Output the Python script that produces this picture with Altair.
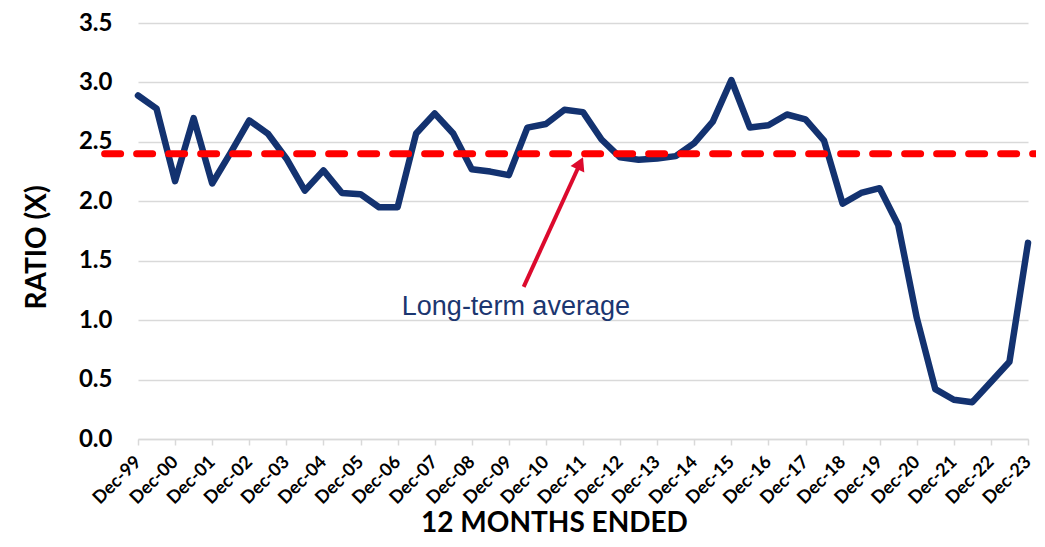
import altair as alt
import pandas as pd

# ---- data (semi-annual, Dec-99 .. Dec-23) ----
tick_labels = ["Dec-99", "Dec-00", "Dec-01", "Dec-02", "Dec-03", "Dec-04", "Dec-05",
               "Dec-06", "Dec-07", "Dec-08", "Dec-09", "Dec-10", "Dec-11", "Dec-12",
               "Dec-13", "Dec-14", "Dec-15", "Dec-16", "Dec-17", "Dec-18", "Dec-19",
               "Dec-20", "Dec-21", "Dec-22", "Dec-23"]
period_index = list(range(49))
ratio = [2.89, 2.78, 2.17, 2.70, 2.15, 2.41, 2.68, 2.57, 2.36, 2.09,
         2.26, 2.07, 2.06, 1.95, 1.95, 2.57, 2.74, 2.57, 2.27, 2.25,
         2.22, 2.62, 2.65, 2.77, 2.75, 2.52, 2.37, 2.35, 2.36, 2.38,
         2.49, 2.67, 3.02, 2.62, 2.64, 2.73, 2.69, 2.51, 1.98, 2.07,
         2.11, 1.80, 1.02, 0.42, 0.33, 0.31, 0.48, 0.65, 1.65]
long_term_average = 2.40
avg_span = [-1.8, 49.5]
arrow_start = [20.8, 1.28]
arrow_head = [23.85, 2.32]
note_text = "Long-term average"
note_pos = [20.38, 1.045]
y_ticks = [0.0, 0.5, 1.0, 1.5, 2.0, 2.5, 3.0, 3.5]

df = pd.DataFrame({"i": period_index, "ratio": ratio})
avg_df = pd.DataFrame({"i": [avg_span[0]], "i2": [avg_span[1]], "ratio": [long_term_average]})
arrow_df = pd.DataFrame({"i": [arrow_start[0]], "ratio": [arrow_start[1]],
                         "i2": [arrow_head[0]], "ratio2": [arrow_head[1]]})
head_df = pd.DataFrame({"i": [arrow_head[0]], "ratio": [arrow_head[1]]})
note_df = pd.DataFrame({"i": [note_pos[0]], "ratio": [note_pos[1]], "t": [note_text]})

label_js = "[" + ",".join("'%s'" % s for s in tick_labels) + "]"

xscale = alt.Scale(domain=[0, 48], nice=False, zero=False)
yscale = alt.Scale(domain=[0, 3.5], nice=False, zero=True)

xaxis = alt.Axis(
    values=list(range(0, 49, 2)),
    labelExpr=label_js + "[round(datum.value/2)]",
    labelAngle=-45, labelAlign="right", labelBaseline="middle",
    labelPadding=14, labelOverlap=False, labelFlush=False, labelBound=False,
    labelFont="Lato", labelFontSize=18, labelFontWeight="bold", labelColor="#000000",
    grid=False, domain=True, domainColor="#D9D9D9", domainWidth=1.5,
    ticks=True, tickColor="#D9D9D9", tickWidth=1.5, tickSize=6,
    title="12 MONTHS ENDED", titleFont="Lato", titleFontSize=28, titleFontWeight="bold",
    titleColor="#000000", titleX=416, titleY=92, titleAlign="center",
    titleBaseline="alphabetic",
)
yaxis = alt.Axis(
    values=y_ticks, format=".1f",
    labelFont="Lato", labelFontSize=24, labelFontWeight="bold", labelColor="#000000",
    labelPadding=26, labelBaseline="middle",
    grid=True, gridColor="#D9D9D9", gridWidth=1.5,
    domain=False, ticks=False,
    title="RATIO (X)", titleFont="Lato", titleFontSize=28, titleFontWeight="bold",
    titleColor="#000000", titleX=-101, titleY=224, titleAlign="center",
    titleBaseline="middle", titleAngle=-90,
)

X = alt.X("i:Q", scale=xscale, axis=xaxis)
Y = alt.Y("ratio:Q", scale=yscale, axis=yaxis)

line = alt.Chart(df).mark_line(color="#133270", strokeWidth=6.5, strokeJoin="round",
                               strokeCap="round").encode(x=X, y=Y)

avg = alt.Chart(avg_df).mark_rule(color="#FF0000", strokeWidth=7, strokeDash=[16, 16],
                                  strokeCap="round").encode(x=X, x2="i2:Q", y=Y)

arrow = alt.Chart(arrow_df).mark_rule(color="#DC0A2D", strokeWidth=4).encode(
    x=X, x2="i2:Q", y=Y, y2="ratio2:Q")

head = alt.Chart(head_df).mark_point(shape="triangle-up", filled=True, size=230, angle=25,
                                     color="#DC0A2D", opacity=1, strokeWidth=0).encode(x=X, y=Y)

note = alt.Chart(note_df).mark_text(font="Liberation Sans", fontSize=27, color="#1B3670",
                                    align="center", baseline="alphabetic").encode(
    x=X, y=Y, text="t:N")

chart = alt.layer(line, avg, arrow, head, note).properties(
    width=890, height=416,
    autosize=alt.AutoSizeParams(type="none"),
    padding={"left": 130, "top": 15, "right": 8, "bottom": 99},
    background="#ffffff",
).configure_view(stroke=None)

chart.save("out.html", embed_options={"renderer": "svg", "actions": False})
